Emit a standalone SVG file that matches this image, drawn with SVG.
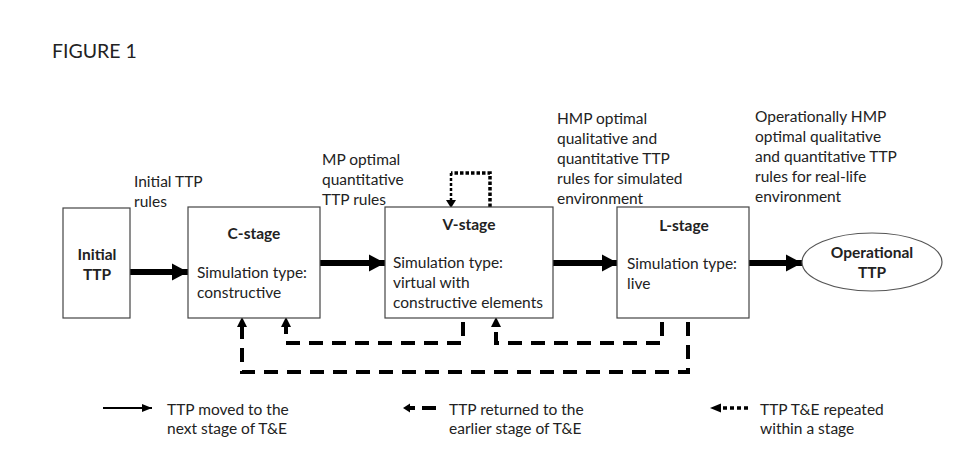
<svg xmlns="http://www.w3.org/2000/svg" width="969" height="466" viewBox="0 0 969 466">
<style>
  text { font-family: Lato, "Liberation Sans", sans-serif; font-size: 15.5px; fill: #222; }
  .b { font-weight: bold; }
  .c { text-anchor: middle; }
  .box { fill: #fff; stroke: #444; stroke-width: 1.2; }
  .thick { stroke: #000; stroke-width: 6; fill: none; }
  .dash { stroke: #000; stroke-width: 4; fill: none; stroke-dasharray: 14 9; }
  .head { fill: #000; }
</style>
<defs>
  <marker id="big" markerUnits="userSpaceOnUse" markerWidth="16" markerHeight="18" refX="16" refY="9" orient="auto">
    <path d="M0,0.5 L16,9 L0,17.5 Z" fill="#000"/>
  </marker>
  <marker id="small" markerUnits="userSpaceOnUse" markerWidth="10" markerHeight="8" refX="10" refY="4" orient="auto">
    <path d="M0,0 L10,4 L0,8 Z" fill="#000"/>
  </marker>
</defs>
<rect width="969" height="466" fill="#fff"/>

<text x="52" y="58" style="font-size:19.5px">FIGURE 1</text>

<g id="connectors">
  <line class="thick" x1="130" y1="272" x2="188" y2="272" marker-end="url(#big)"/>
  <line class="thick" x1="320" y1="263" x2="385" y2="263" marker-end="url(#big)"/>
  <line class="thick" x1="553" y1="263" x2="618" y2="263" marker-end="url(#big)"/>
  <line class="thick" x1="749" y1="263" x2="802" y2="263" marker-end="url(#big)"/>
  <!-- dotted loop -->
  <path d="M490,207 V173 H451" fill="none" stroke="#000" stroke-width="3.5" stroke-dasharray="3.5 2"/>
  <path d="M451,173 V200" fill="none" stroke="#000" stroke-width="2.5" stroke-dasharray="3 2"/>
  <polygon class="head" points="446,200 456,200 451,208"/>
  <!-- dashed return paths -->
  <path class="dash" d="M688,322 V372 H242 V327"/>
  <polygon class="head" points="237,327 247,327 242,317"/>
  <path class="dash" d="M463,322 V343 H286 V327"/>
  <polygon class="head" points="281,327 291,327 286,317"/>
  <path class="dash" d="M662,322 V343 H496 V327"/>
  <polygon class="head" points="491,327 501,327 496,317"/>
</g>

<g id="initial-ttp">
  <rect class="box" x="63" y="208" width="67" height="110"/>
  <text class="b c" x="97" y="260">Initial</text>
  <text class="b c" x="97" y="280">TTP</text>
</g>
<g id="c-stage">
  <rect class="box" x="188" y="207" width="132" height="111"/>
  <text class="b c" x="254" y="239">C-stage</text>
  <text x="197" y="278">Simulation type:</text>
  <text x="197" y="298">constructive</text>
</g>
<g id="v-stage">
  <rect class="box" x="385" y="207" width="168" height="111"/>
  <text class="b c" x="469" y="230">V-stage</text>
  <text x="393" y="268">Simulation type:</text>
  <text x="393" y="288">virtual with</text>
  <text x="393" y="308">constructive elements</text>
</g>
<g id="l-stage">
  <rect class="box" x="617" y="207" width="132" height="111"/>
  <text class="b c" x="684" y="231">L-stage</text>
  <text x="627" y="269">Simulation type:</text>
  <text x="627" y="289">live</text>
</g>
<g id="operational-ttp">
  <ellipse cx="872" cy="262" rx="70" ry="29" fill="#fff" stroke="#555" stroke-width="1.2"/>
  <text class="b c" x="872" y="258">Operational</text>
  <text class="b c" x="872" y="278">TTP</text>
</g>

<g id="labels">
  <text x="134" y="187">Initial TTP</text>
  <text x="134" y="207">rules</text>
  <text x="322" y="165">MP optimal</text>
  <text x="322" y="185">quantitative</text>
  <text x="322" y="205">TTP rules</text>
  <text x="557" y="124">HMP optimal</text>
  <text x="557" y="144">qualitative and</text>
  <text x="557" y="164">quantitative TTP</text>
  <text x="557" y="184">rules for simulated</text>
  <text x="557" y="204">environment</text>
  <text x="755" y="122">Operationally HMP</text>
  <text x="755" y="142">optimal qualitative</text>
  <text x="755" y="162">and quantitative TTP</text>
  <text x="755" y="182">rules for real-life</text>
  <text x="755" y="202">environment</text>
</g>

<g id="legend">
  <line x1="103" y1="408" x2="152" y2="408" stroke="#000" stroke-width="2" marker-end="url(#small)"/>
  <text x="167" y="415">TTP moved to the</text>
  <text x="167" y="434">next stage of T&amp;E</text>
  <polygon class="head" points="403,408 410,403.5 410,412.5"/>
  <line x1="409" y1="408" x2="415" y2="408" stroke="#000" stroke-width="4"/>
  <line x1="422" y1="408" x2="436" y2="408" stroke="#000" stroke-width="4"/>
  <text x="449" y="415">TTP returned to the</text>
  <text x="449" y="434">earlier stage of T&amp;E</text>
  <polygon class="head" points="710,408 721,403.5 721,412.5"/>
  <line x1="723" y1="408" x2="749" y2="408" stroke="#000" stroke-width="3.5" stroke-dasharray="4 3"/>
  <text x="760" y="415">TTP T&amp;E repeated</text>
  <text x="760" y="434">within a stage</text>
</g>
</svg>
